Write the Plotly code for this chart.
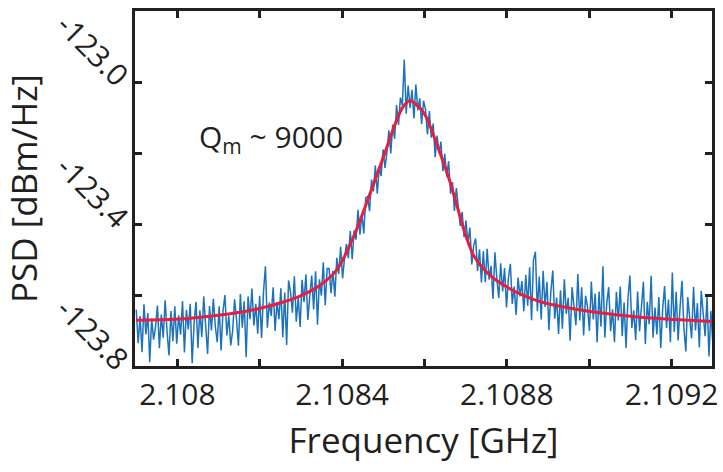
import numpy as np
import plotly.graph_objects as go

# Spectrum-analyser sweep: 300 bins between the two frequency limits (GHz)
sweep_start_ghz = 2.1079
sweep_stop_ghz = 2.1093
n_bins = 300

# Measured PSD (dBm/Hz), one value per bin
psd_measured = [
    -123.641, -123.736, -123.659, -123.761, -123.626, -123.711, -123.651, -123.789, -123.666, -123.726,
    -123.690, -123.630, -123.750, -123.655, -123.720, -123.615, -123.705, -123.770, -123.645, -123.730,
    -123.632, -123.737, -123.657, -123.712, -123.617, -123.762, -123.642, -123.697, -123.625, -123.792,
    -123.680, -123.619, -123.749, -123.643, -123.718, -123.604, -123.687, -123.766, -123.631, -123.700,
    -123.611, -123.688, -123.733, -123.632, -123.756, -123.645, -123.600, -123.714, -123.658, -123.742,
    -123.701, -123.612, -123.669, -123.743, -123.597, -123.692, -123.618, -123.775, -123.604, -123.668,
    -123.582, -123.686, -123.625, -123.709, -123.602, -123.721, -123.590, -123.519, -123.692, -123.621,
    -123.659, -123.578, -123.701, -123.619, -123.668, -123.581, -123.719, -123.593, -123.741, -123.559,
    -123.592, -123.650, -123.547, -123.675, -123.607, -123.690, -123.557, -123.620, -123.542, -123.670,
    -123.603, -123.545, -123.641, -123.533, -123.684, -123.556, -123.602, -123.508, -123.629, -123.525,
    -123.525, -123.595, -123.532, -123.605, -123.495, -123.541, -123.464, -123.553, -123.497, -123.456,
    -123.496, -123.420, -123.499, -123.418, -123.444, -123.360, -123.430, -123.371, -123.427, -123.326,
    -123.323, -123.364, -123.275, -123.308, -123.235, -123.315, -123.240, -123.265, -123.190, -123.242,
    -123.198, -123.136, -123.201, -123.120, -123.160, -123.065, -123.121, -123.044, -123.065, -122.937,
    -123.089, -123.010, -123.073, -123.022, -123.103, -123.007, -123.080, -123.046, -123.119, -123.053,
    -123.077, -123.148, -123.082, -123.157, -123.117, -123.212, -123.151, -123.200, -123.168, -123.251,
    -123.202, -123.267, -123.223, -123.315, -123.282, -123.363, -123.299, -123.352, -123.405, -123.366,
    -123.437, -123.390, -123.454, -123.410, -123.514, -123.460, -123.441, -123.532, -123.471, -123.565,
    -123.477, -123.564, -123.470, -123.557, -123.518, -123.611, -123.480, -123.554, -123.608, -123.511,
    -123.590, -123.524, -123.635, -123.552, -123.512, -123.625, -123.576, -123.656, -123.551, -123.604,
    -123.561, -123.646, -123.543, -123.630, -123.522, -123.671, -123.501, -123.478, -123.646, -123.548,
    -123.669, -123.532, -123.634, -123.563, -123.699, -123.590, -123.531, -123.667, -123.607, -123.710,
    -123.587, -123.695, -123.556, -123.653, -123.608, -123.729, -123.578, -123.631, -123.685, -123.541,
    -123.672, -123.578, -123.714, -123.602, -123.633, -123.701, -123.562, -123.669, -123.596, -123.734,
    -123.590, -123.689, -123.519, -123.720, -123.623, -123.578, -123.702, -123.640, -123.733, -123.591,
    -123.672, -123.576, -123.716, -123.621, -123.749, -123.610, -123.545, -123.693, -123.643, -123.727,
    -123.590, -123.702, -123.641, -123.563, -123.738, -123.619, -123.682, -123.546, -123.720, -123.635,
    -123.711, -123.606, -123.749, -123.637, -123.575, -123.693, -123.613, -123.733, -123.537, -123.704,
    -123.591, -123.728, -123.635, -123.560, -123.693, -123.759, -123.606, -123.656, -123.722, -123.577,
    -123.700, -123.623, -123.748, -123.588, -123.666, -123.716, -123.606, -123.773, -123.645, -123.737,
]

# Lorentzian fit of the mechanical resonance, sampled along the sweep
fit_freq_ghz = [
    2.1078992, 2.1079592, 2.1080192, 2.1080792, 2.1081392, 2.1081992, 2.1082592, 2.1083072,
    2.1083480, 2.1083864, 2.1084272, 2.1084704, 2.1085040, 2.1085352, 2.1085496, 2.1085640,
    2.1085784, 2.1086000, 2.1086312, 2.1086624, 2.1086984, 2.1087200, 2.1087584, 2.1087992,
    2.1088400, 2.1088784, 2.1089384, 2.1089984, 2.1090584, 2.1091184, 2.1092072, 2.1092984,
]
fit_psd = [
    -123.671, -123.670, -123.667, -123.660, -123.651, -123.638, -123.619, -123.598,
    -123.571, -123.530, -123.437, -123.306, -123.199, -123.099, -123.067, -123.053,
    -123.062, -123.090, -123.180, -123.283, -123.426, -123.490, -123.544, -123.577,
    -123.601, -123.618, -123.634, -123.646, -123.655, -123.662, -123.669, -123.675,
]

# Labelled ticks and the unlabelled minor ticks in between
x_tick_vals = [2.1080, 2.1084, 2.1088, 2.1092]
x_tick_text = ["2.108", "2.1084", "2.1088", "2.1092"]
x_minor_vals = [2.1082, 2.1086, 2.1090]
y_tick_vals = [-123.8, -123.4, -123.0]
y_tick_text = ["-123.8", "-123.4", "-123.0"]
y_minor_vals = [-123.6, -123.2]

freq_ghz = np.linspace(sweep_start_ghz, sweep_stop_ghz, n_bins)

ink = "#231f20"
font_family = "Open Sans, Noto Sans, sans-serif"

fig = go.Figure()
fig.add_trace(go.Scatter(
    x=freq_ghz, y=psd_measured, mode="lines",
    line=dict(color="#1c72bd", width=1.5),
    showlegend=False, hoverinfo="skip",
))
fig.add_trace(go.Scatter(
    x=fit_freq_ghz, y=fit_psd, mode="lines",
    line=dict(color="#e3203f", width=3, shape="spline", smoothing=1.0),
    showlegend=False, hoverinfo="skip",
))

fig.add_annotation(
    x=2.1080480, y=-123.157, xref="x", yref="y",
    text="Q<sub>m</sub> ~ 9000", showarrow=False,
    xanchor="left", yanchor="middle",
    font=dict(family=font_family, size=30, color=ink),
)

axis_common = dict(
    showline=True, linecolor=ink, linewidth=3, mirror="allticks",
    ticks="inside", ticklen=7, tickwidth=3, tickcolor=ink,
    showgrid=False, zeroline=False,
    tickfont=dict(family=font_family, size=30, color=ink),
)
minor_common = dict(ticks="inside", ticklen=7, tickwidth=3, tickcolor=ink,
                    showgrid=False, tickmode="array")

fig.update_xaxes(
    range=[2.107897, 2.109298],
    tickmode="array", tickvals=x_tick_vals, ticktext=x_tick_text,
    minor=dict(tickvals=x_minor_vals, **minor_common),
    title=dict(text="Frequency [GHz]", standoff=16,
               font=dict(family=font_family, size=35, color=ink)),
    **axis_common,
)
fig.update_yaxes(
    range=[-123.8, -122.8],
    tickmode="array", tickvals=y_tick_vals, ticktext=y_tick_text,
    minor=dict(tickvals=y_minor_vals, **minor_common),
    tickangle=45,
    title=dict(text="PSD [dBm/Hz]", standoff=2,
               font=dict(family=font_family, size=35, color=ink)),
    **axis_common,
)

fig.update_layout(
    width=723, height=472,
    margin=dict(l=135, r=5, t=10, b=106, pad=0),
    paper_bgcolor="white", plot_bgcolor="white",
)

fig.write_html("out.html")
